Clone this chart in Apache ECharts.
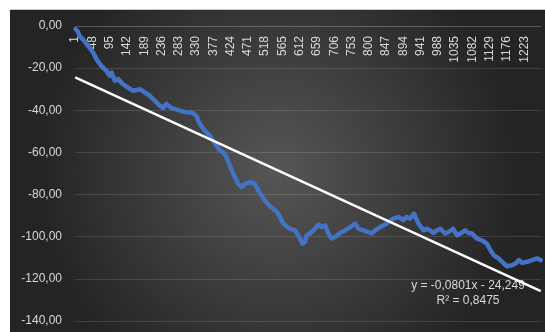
<!DOCTYPE html>
<html>
<head>
<meta charset="utf-8">
<script src="https://cdn.jsdelivr.net/npm/echarts@6/dist/echarts.min.js"></script>
<style>
  html, body { margin: 0; padding: 0; background: #ffffff; }
  #chart { position: absolute; left: 10px; top: 9px; width: 535px; height: 323px;
           border-top: 1px solid #c8c8c8; box-sizing: border-box; }
</style>
</head>
<body>
<div id="chart"></div>
<script>
// Number of observations on the category axis (1 .. N)
const observationCount = 1268;
const labelStep = 47;

// Cumulative result, sampled at these observation numbers
const sampleX = [
  2, 8, 13, 27, 40, 50, 59, 72, 86, 95, 100, 109, 118, 131, 145, 158, 177, 190, 204, 218,
  231, 240, 249, 263, 286, 304, 318, 331, 340, 354, 367, 376, 386, 395, 404, 413, 422, 431, 445, 454,
  463, 477, 490, 499, 508, 517, 531, 549, 558, 567, 585, 599, 608, 620, 626, 631, 640, 649, 663, 672,
  681, 690, 699, 708, 722, 735, 749, 763, 772, 785, 799, 808, 817, 831, 844, 853, 867, 881, 894, 903,
  912, 923, 935, 949, 958, 967, 976, 985, 994, 1008, 1017, 1029, 1040, 1049, 1062, 1071, 1081, 1094, 1108, 1121,
  1131, 1140, 1153, 1167, 1176, 1190, 1199, 1208, 1217, 1231, 1244, 1258, 1268
];
const sampleY = [
  -1.5, -2.5, -4.7, -7.4, -10.3, -12.6, -15.8, -18.9, -21.3, -23.6, -22.1, -26.0, -25.2, -27.6, -29.2, -30.7, -30.0, -31.5, -33.1, -35.5,
  -37.8, -38.9, -37.0, -38.9, -40.2, -41.0, -41.0, -42.6, -46.5, -49.7, -52.0, -54.4, -56.8, -59.1, -59.9, -62.3, -66.2, -70.1, -74.9, -76.5,
  -74.9, -74.1, -74.9, -78.0, -80.4, -82.8, -85.5, -88.0, -90.5, -93.8, -96.2, -97.0, -99.3, -103.3, -102.5, -99.3, -98.5, -97.0, -94.3, -95.4,
  -94.6, -98.5, -100.9, -100.1, -98.2, -97.0, -95.4, -93.8, -96.2, -97.0, -97.8, -98.5, -97.0, -95.4, -94.3, -93.0, -91.4, -90.6, -92.2, -90.6,
  -91.4, -89.1, -93.8, -97.0, -96.2, -97.0, -98.2, -97.0, -96.2, -98.5, -97.8, -96.2, -99.3, -98.5, -97.0, -98.2, -98.5, -100.9, -101.7, -103.3,
  -106.4, -108.8, -110.3, -112.7, -114.0, -113.5, -112.7, -111.1, -112.4, -111.9, -111.1, -110.3, -111.1
];

// Linear trend line
const trendSlope = -0.0801;
const trendIntercept = -24.249;
const trendLabel = 'y = -0,0801x - 24,249';
const r2Label = 'R² = 0,8475';

// Value axis
const yMin = -140, yMax = 0, yStep = 20;

const categories = Array.from({ length: observationCount }, (_, i) => String(i + 1));
const seriesData = sampleX.map((x, i) => [x - 1, sampleY[i]]);
const trendData = [1, observationCount].map(x => [x - 1, trendSlope * x + trendIntercept]);

const textColor = '#d9d9d9';
const gridColor = 'rgba(255,255,255,0.13)';
const fontFamily = '"Liberation Sans", Arial, sans-serif';

const chart = echarts.init(document.getElementById('chart'), null, { renderer: 'canvas' });
chart.setOption({
  animation: false,
  backgroundColor: {
    type: 'radial', x: 0.5, y: 0.5, r: 0.75,
    colorStops: [
      { offset: 0, color: '#565656' },
      { offset: 1, color: '#242424' }
    ]
  },
  grid: { left: 65, right: 4, top: 16, bottom: 11, containLabel: false },
  xAxis: {
    type: 'category',
    position: 'top',
    data: categories,
    boundaryGap: true,
    axisLine: { show: true, lineStyle: { color: gridColor, width: 1 } },
    axisTick: { show: false },
    axisLabel: {
      inside: true,
      rotate: 90,
      interval: labelStep - 1,
      color: textColor,
      fontSize: 12,
      fontFamily: fontFamily,
      margin: 10
    },
    splitLine: { show: false }
  },
  yAxis: {
    type: 'value',
    min: yMin, max: yMax, interval: yStep,
    axisLine: { show: false },
    axisTick: { show: false },
    splitLine: { show: true, lineStyle: { color: gridColor, width: 1 } },
    axisLabel: {
      color: textColor,
      fontSize: 12,
      fontFamily: fontFamily,
      margin: 13,
      formatter: v => v.toFixed(2).replace('.', ',')
    }
  },
  series: [
    {
      name: 'Resultat',
      type: 'line',
      data: seriesData,
      showSymbol: false,
      lineStyle: { color: '#4472C4', width: 4.5, join: 'round', cap: 'round' },
      z: 3
    },
    {
      name: 'Linjär trend',
      type: 'line',
      data: trendData,
      showSymbol: false,
      lineStyle: { color: '#ffffff', width: 2.5 },
      z: 4
    }
  ],
  graphic: [
    {
      type: 'text', x: 458, y: 276, z: 1,
      style: { text: trendLabel, fill: textColor, font: '12px ' + fontFamily,
               textAlign: 'center', textVerticalAlign: 'middle' }
    },
    {
      type: 'text', x: 458, y: 291, z: 1,
      style: { text: r2Label, fill: textColor, font: '12px ' + fontFamily,
               textAlign: 'center', textVerticalAlign: 'middle' }
    }
  ]
});
</script>
</body>
</html>
